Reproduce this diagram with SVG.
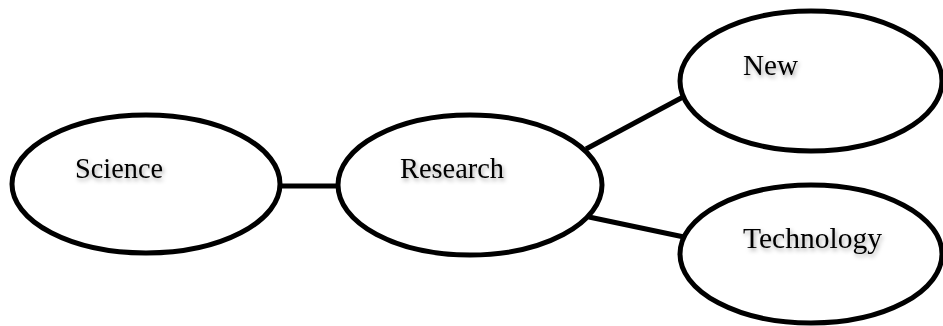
<svg xmlns="http://www.w3.org/2000/svg" width="943" height="326" viewBox="0 0 943 326">
<defs>
<filter id="sh" x="-10%" y="-30%" width="130%" height="170%">
<feDropShadow dx="1.5" dy="2.5" stdDeviation="2" flood-color="#000" flood-opacity="0.35"/>
</filter>
</defs>
<style>
.node ellipse{fill:#fff;stroke:#000;stroke-width:5}
.node text{font-family:"Liberation Serif","Times New Roman",serif;font-size:30px;fill:#000;filter:url(#sh)}
.edges line{stroke:#000;stroke-width:5}
</style>
<rect width="943" height="326" fill="#fff"/>
<g class="edges">
<line x1="279" y1="186" x2="340" y2="186"/>
<line x1="586" y1="149" x2="683" y2="97"/>
<line x1="589" y1="217" x2="684" y2="237"/>
</g>
<g id="science" class="node">
<ellipse cx="146" cy="184" rx="134" ry="69"/>
<text x="75" y="178" textLength="88" lengthAdjust="spacingAndGlyphs">Science</text>
</g>
<g id="research" class="node">
<ellipse cx="470" cy="185" rx="132" ry="70"/>
<text x="400" y="178" textLength="104" lengthAdjust="spacingAndGlyphs">Research</text>
</g>
<g id="new" class="node">
<ellipse cx="811" cy="81" rx="131" ry="70"/>
<text x="743" y="75" textLength="55" lengthAdjust="spacingAndGlyphs">New</text>
</g>
<g id="technology" class="node">
<ellipse cx="811" cy="254" rx="131" ry="69"/>
<text x="743" y="248" textLength="139" lengthAdjust="spacingAndGlyphs">Technology</text>
</g>
</svg>
